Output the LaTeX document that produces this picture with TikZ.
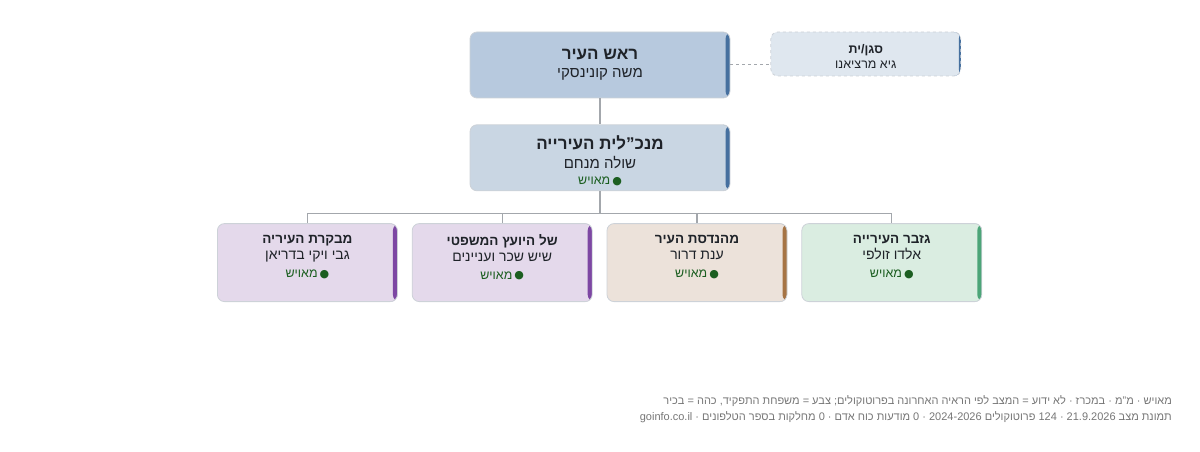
\documentclass[tikz,border=0pt]{standalone}
\usepackage{fontspec}
\setmainfont[Script=Hebrew]{Liberation Sans}
\newfontfamily\dotfont{DejaVu Sans}
\TeXXeTstate=1
\usetikzlibrary{positioning}
\definecolor{ink}{HTML}{1F2329}
\definecolor{edge}{HTML}{CDD2D8}
\definecolor{wire}{HTML}{A3A7AC}
\definecolor{okgreen}{HTML}{1B5E20}
\definecolor{note}{HTML}{767676}
\definecolor{headfill}{HTML}{B7C9DE}
\definecolor{ceofill}{HTML}{C9D6E3}
\definecolor{depfill}{HTML}{DFE7EF}
\definecolor{blueside}{HTML}{46709F}
\definecolor{purpfill}{HTML}{E4D9EB}
\definecolor{purpside}{HTML}{7D47A3}
\definecolor{brownfill}{HTML}{ECE2DA}
\definecolor{brownside}{HTML}{A67444}
\definecolor{greenfill}{HTML}{DAEDE1}
\definecolor{greenside}{HTML}{4CA578}

\newcommand\bigttl[1]{{\fontsize{17}{20}\selectfont\bfseries\beginR #1\endR}}
\newcommand\bignm[1]{{\fontsize{15}{18}\selectfont\beginR #1\endR}}
\newcommand\ttl[1]{{\fontsize{13.5}{16}\selectfont\bfseries\beginR #1\endR}}
\newcommand\nm[1]{{\fontsize{14}{17}\selectfont\beginR #1\endR}}
\newcommand\smttl[1]{{\fontsize{12.5}{15}\selectfont\bfseries\beginR #1\endR}}
\newcommand\smnm[1]{{\fontsize{12.5}{15}\selectfont\beginR #1\endR}}
\newcommand\stat[1]{{\fontsize{12.5}{15}\selectfont\color{okgreen}\beginR{\dotfont\fontsize{11}{15}\selectfont\raisebox{0.5pt}{●}}\,#1\endR}}
\newcommand\foot[1]{{\fontsize{11}{15}\selectfont\beginR #1\endR}}
\newcommand\lift[1]{\rule{0pt}{#1}}

\begin{document}
\begin{tikzpicture}[
		x=1pt, y=-1pt,
		unit/.style={draw=edge, line width=0.8pt, rounded corners=7pt, align=center, inner sep=0pt, text=ink, minimum width=180pt, minimum height=78pt},
		side/.style 2 args={fill=#1, path picture={\fill[#2] ([xshift=-4.5pt]path picture bounding box.north east) rectangle (path picture bounding box.south east);}},
		head/.style={unit, side={headfill}{blueside}, minimum width=260pt, minimum height=66pt},
		ceo/.style={unit, side={ceofill}{blueside}, minimum width=260pt, minimum height=66pt},
		deputy/.style={unit, dashed, fill=depfill, minimum width=190pt, minimum height=44pt,
			path picture={\fill[blueside] ([xshift=-2pt]path picture bounding box.north east) rectangle (path picture bounding box.south east);}},
		link/.style={draw=wire, line width=1.3pt},
		dlink/.style={link, dashed, line width=1pt}
	]
		\useasboundingbox (0,0) rectangle (1200,452);

		\node[head] at (600,65)
			(mayor)
			{\bigttl{ראש העיר}\\[6pt]\bignm{משה קונינסקי}};
		\node[deputy, right=40pt of mayor.north east, anchor=north west]
			(dep)
			{\lift{15pt}\smttl{סגן/ית}\\[3pt]\smnm{גיא מרציאנו}};
		\node[ceo, below=26pt of mayor]
			(gm)
			{\lift{19pt}\bigttl{מנכ"לית העירייה}\\[6pt]\bignm{שולה מנחם}\\[4pt]\stat{מאויש}};
		\node[unit, side={brownfill}{brownside}, below=32pt of gm, xshift=97pt]
			(eng)
			{\ttl{מהנדסת העיר}\\[4pt]\nm{ענת דרור}\\[6pt]\stat{מאויש}\\[0pt]};
		\node[unit, side={greenfill}{greenside}, right=14pt of eng]
			(treas)
			{\ttl{גזבר העירייה}\\[4pt]\nm{אלדו זולפי}\\[6pt]\stat{מאויש}\\[0pt]};
		\node[unit, side={purpfill}{purpside}, left=14pt of eng]
			(legal)
			{\ttl{של היועץ המשפטי}\\[4pt]\nm{שיש שכר ועניינים}\\[6pt]\stat{מאויש}\\[0pt]};
		\node[unit, side={purpfill}{purpside}, left=14pt of legal]
			(audit)
			{\ttl{מבקרת העיריה}\\[4pt]\nm{גבי ויקי בדריאן}\\[6pt]\stat{מאויש}\\[0pt]};

		\node[anchor=east, text=note, align=right, inner sep=0pt] at (1172,409)
			(legend)
			{\foot{מאויש · מ"מ · במכרז · לא ידוע = המצב לפי הראיה האחרונה בפרוטוקולים; צבע = משפחת התפקיד, כהה = בכיר}\\[4pt]\foot{תמונת מצב 21.9.2026 · 124 פרוטוקולים 2024-2026 · 0 מודעות כוח אדם · 0 מחלקות בספר הטלפונים · goinfo.co.il}};

		\draw[dlink] (mayor.east) -- (mayor.east -| dep.west);
		\draw[link] (mayor) -- (gm);
		\draw[link] (gm.south) -- ++(0,22) coordinate (bus);
		\draw[link] (bus -| audit.north) -- (bus -| treas.north);
		\foreach \n in {audit,legal,eng,treas}
			\draw[link] (bus -| \n.north) -- (\n.north);
	\end{tikzpicture}
\end{document}
